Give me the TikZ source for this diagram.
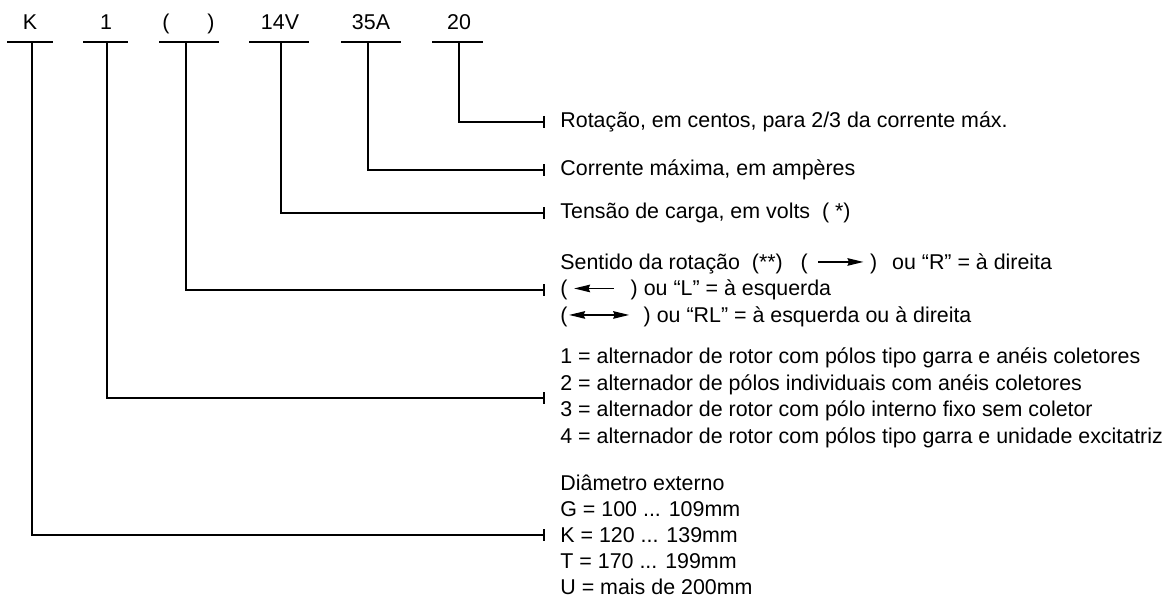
\documentclass[tikz,border=0pt]{standalone}
\usepackage{fontspec}
\setmainfont{Liberation Sans}
\usetikzlibrary{arrows.meta}

% small arrows that sit inside the text lines
\newcommand\txtarrow[2]{\tikz[baseline={(0pt,-3.6pt)}]\draw[line width=0.6pt,#1] (0pt,0pt) -- (#2,0pt);}

\tikzset{
  code/.style={anchor=base,inner sep=0pt,font=\fontsize{10.7}{12}\selectfont},
  desc/.style={anchor=west,align=left,inner xsep=7.5pt,inner ysep=0pt,font=\fontsize{10.7}{13.25}\selectfont},
  lead/.style={line width=1pt,-{Bar[width=6pt,line width=1pt]}},
  txttip/.tip={Stealth[length=8pt,width=3.8pt,inset=0.8pt]}
}

\begin{document}
\begin{tikzpicture}[x=0.5pt,y=-0.5pt]
  \useasboundingbox (0,0) rectangle (1172,599);
  % code letters with their bars
  \foreach \n/\x/\a/\b/\s/\t in {K/30/7/53/32/K,one/106/83/128/107/1,dir/188.5/159/219/186/{(\hspace{19pt})},14V/280/249/309/281/14V,35A/371/341/401/368/35A,20/459/432/483/459/20}{
    \node[code] (c\n) at (\x,29.5) {\t};
    \draw[line width=1pt] (\a,41.7) -- (\b,41.7);
    \coordinate (b\n) at (\s,41.7);}
  % descriptions
  \node[desc] (d20) at (545,122) {Rotação, em centos, para 2/3 da corrente máx.};
  \node[desc] (d35A) at (545,170) {Corrente máxima, em ampères};
  \node[desc] (d14V) at (545,213) {Tensão de carga, em volts\ \ ( *)};
  \node[desc] (ddir) at (545,290) {Sentido da rotação\ \ (**)\ \ \ (\hspace{5pt}\txtarrow{-txttip}{22.5pt}\hspace{3pt})\hspace{7.5pt}ou “R” = à direita\\
    (\hspace{3pt}\txtarrow{txttip-}{20pt}\hspace{8pt}) ou “L” = à esquerda\\
    (\hspace{0.5pt}\txtarrow{txttip-txttip}{30pt}\hspace{7pt}) ou “RL” = à esquerda ou à direita};
  \node[desc] (dtype) at (545,398) {1 = alternador de rotor com pólos tipo garra e anéis coletores\\
    2 = alternador de pólos individuais com anéis coletores\\
    3 = alternador de rotor com pólo interno fixo sem coletor\\
    4 = alternador de rotor com pólos tipo garra e unidade excitatriz};
  \node[desc,font=\fontsize{10.7}{13}\selectfont] (ddia) at (545,535) {Diâmetro externo\\G = 100 ... 109mm\\K = 120 ... 139mm\\T = 170 ... 199mm\\U = mais de 200mm};
  % leaders from the bars to the descriptions
  \foreach \n/\d in {K/dia,one/type,dir/dir,14V/14V,35A/35A,20/20}
    \draw[lead] (b\n) |- (d\d.west);
\end{tikzpicture}
\end{document}
